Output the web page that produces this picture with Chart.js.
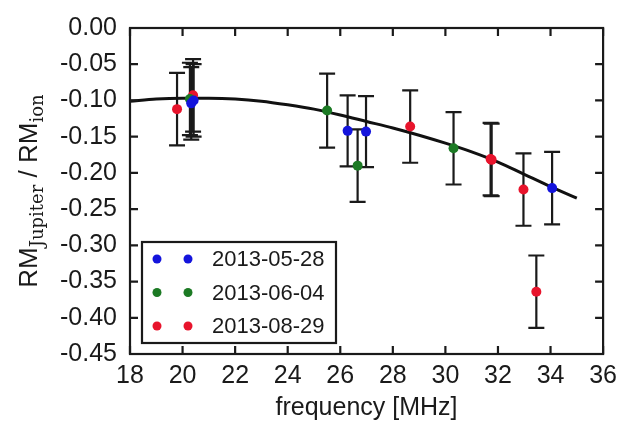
<!DOCTYPE html>
<html>
<head>
<meta charset="utf-8">
<script src="https://cdn.jsdelivr.net/npm/chart.js@4.4.1/dist/chart.umd.min.js"></script>
<style>
  html, body { margin: 0; padding: 0; background: #fff; }
  canvas { display: block; }
</style>
</head>
<body>
<canvas id="rmChart" width="624" height="424"></canvas>
<script>
// series labels (legend)
const seriesLabels = ['2013-05-28', '2013-06-04', '2013-08-29'];
const seriesColors = ['#1414dc', '#1c7a24', '#e8142c'];

// 2013-05-28 (blue)
const blueFreq = [20.33, 20.42, 26.28, 26.98, 34.06];
const blueRM = [-0.104, -0.100, -0.142, -0.143, -0.221];
const blueErr = [0.050, 0.050, 0.049, 0.049, 0.050];

// 2013-06-04 (green)
const greenFreq = [20.28, 25.50, 26.66, 30.31];
const greenRM = [-0.098, -0.114, -0.190, -0.166];
const greenErr = [0.050, 0.051, 0.050, 0.050];

// 2013-08-29 (red)
const redFreq = [19.79, 20.40, 28.66, 31.72, 31.76, 32.97, 33.46];
const redRM = [-0.112, -0.093, -0.136, -0.181, -0.182, -0.223, -0.364];
const redErr = [0.050, 0.050, 0.050, 0.050, 0.050, 0.050, 0.050];

// fitted curve
const fitFreq = [18, 19, 20, 21, 22, 23, 24, 25, 26, 27, 28, 29, 30, 31, 32, 33, 34, 35];
const fitRM = [-0.101, -0.098, -0.097, -0.097, -0.098, -0.101, -0.106, -0.112, -0.120,
               -0.129, -0.138, -0.148, -0.159, -0.171, -0.185, -0.202, -0.219, -0.235];

// axis ticks
const xTicks = [18, 20, 22, 24, 26, 28, 30, 32, 34, 36];
const yTicks = [0, -0.05, -0.10, -0.15, -0.20, -0.25, -0.30, -0.35, -0.40, -0.45];

const ink = '#1a1a1a';
const sans = "'Liberation Sans', Arial, sans-serif";

function toPoints(xs, ys) {
  return xs.map((x, i) => ({ x: x, y: ys[i] }));
}

const errs = [blueErr, greenErr, redErr];

// error bars, drawn under the points
const errorBars = {
  id: 'errorBars',
  beforeDatasetsDraw(chart) {
    const c = chart.ctx;
    const xs = chart.scales.x, ys = chart.scales.y;
    c.save();
    c.strokeStyle = ink;
    c.lineWidth = 2.2;
    for (let d = 0; d < 3; d++) {
      const pts = chart.data.datasets[d].data;
      pts.forEach((p, i) => {
        const px = xs.getPixelForValue(p.x);
        const top = ys.getPixelForValue(p.y + errs[d][i]);
        const bot = ys.getPixelForValue(p.y - errs[d][i]);
        c.beginPath();
        c.moveTo(px, top); c.lineTo(px, bot);
        c.moveTo(px - 8, top); c.lineTo(px + 8, top);
        c.moveTo(px - 8, bot); c.lineTo(px + 8, bot);
        c.stroke();
      });
    }
    c.restore();
  }
};

// frame, inward ticks, titles and legend box
const decor = {
  id: 'decor',
  afterDraw(chart) {
    const c = chart.ctx;
    const a = chart.chartArea;
    const xs = chart.scales.x, ys = chart.scales.y;
    c.save();
    c.strokeStyle = ink;
    c.lineWidth = 2.2;
    c.strokeRect(a.left, a.top, a.right - a.left, a.bottom - a.top);
    c.beginPath();
    xTicks.forEach(v => {
      const px = xs.getPixelForValue(v);
      c.moveTo(px, a.bottom); c.lineTo(px, a.bottom - 8);
      c.moveTo(px, a.top); c.lineTo(px, a.top + 8);
    });
    yTicks.forEach(v => {
      const py = ys.getPixelForValue(v);
      c.moveTo(a.left, py); c.lineTo(a.left + 8, py);
      c.moveTo(a.right, py); c.lineTo(a.right - 8, py);
    });
    c.stroke();

    // x title
    c.fillStyle = ink;
    c.font = '25px ' + sans;
    c.textAlign = 'center';
    c.textBaseline = 'alphabetic';
    c.fillText('frequency [MHz]', (a.left + a.right) / 2, 415);

    // y title with serif subscripts
    const parts = [
      { t: 'RM', f: '26px ' + sans, dy: 0 },
      { t: 'Jupiter', f: '18px "DejaVu Serif", serif', dy: 6 },
      { t: ' / RM', f: '26px ' + sans, dy: 0 },
      { t: 'ion', f: '18px "DejaVu Serif", serif', dy: 6 }
    ];
    let total = 0;
    parts.forEach(p => { c.font = p.f; p.w = c.measureText(p.t).width; total += p.w; });
    c.translate(37, (a.top + a.bottom) / 2);
    c.rotate(-Math.PI / 2);
    c.textAlign = 'left';
    let x0 = -total / 2;
    parts.forEach(p => {
      c.font = p.f;
      c.fillText(p.t, x0, p.dy);
      x0 += p.w;
    });
    c.setTransform(1, 0, 0, 1, 0, 0);

    // legend
    const lx = a.left + 12, lb = a.bottom - 11;
    const lw = 194, lh = 101;
    c.fillStyle = '#fff';
    c.fillRect(lx, lb - lh, lw, lh);
    c.strokeRect(lx, lb - lh, lw, lh);
    c.font = '22px ' + sans;
    c.textAlign = 'left';
    c.textBaseline = 'middle';
    seriesLabels.forEach((lab, i) => {
      const ry = lb - lh + 17 + i * 33.5;
      c.fillStyle = seriesColors[i];
      [15, 46].forEach(dx => {
        c.beginPath();
        c.arc(lx + dx, ry, 4.5, 0, Math.PI * 2);
        c.fill();
      });
      c.fillStyle = ink;
      c.fillText(lab, lx + 70, ry + 1);
    });
    c.restore();
  }
};

const pointSet = (label, xs, ys, color) => ({
  label: label,
  data: toPoints(xs, ys),
  backgroundColor: color,
  borderColor: color,
  pointRadius: 5,
  pointBorderWidth: 0,
  showLine: false
});

const ctx = document.getElementById('rmChart').getContext('2d');
new Chart(ctx, {
  type: 'scatter',
  data: {
    datasets: [
      pointSet(seriesLabels[0], blueFreq, blueRM, seriesColors[0]),
      pointSet(seriesLabels[1], greenFreq, greenRM, seriesColors[1]),
      pointSet(seriesLabels[2], redFreq, redRM, seriesColors[2]),
      {
        label: 'fit',
        data: toPoints(fitFreq, fitRM),
        showLine: true,
        borderColor: '#111',
        borderWidth: 3,
        pointRadius: 0,
        tension: 0.4,
        cubicInterpolationMode: 'monotone',
        fill: false
      }
    ]
  },
  options: {
    responsive: false,
    animation: false,
    layout: { padding: { top: 14, right: 14, left: 0, bottom: 0 } },
    plugins: { legend: { display: false }, tooltip: { enabled: false } },
    scales: {
      x: {
        type: 'linear',
        min: 18, max: 36,
        afterBuildTicks: s => { s.ticks = xTicks.map(v => ({ value: v })); },
        ticks: { color: ink, font: { family: sans, size: 25 }, padding: 7, maxRotation: 0 },
        grid: { display: false, drawTicks: false },
        border: { display: false },
        afterFit: s => { s.height = 70; }
      },
      y: {
        type: 'linear',
        min: -0.45, max: 0,
        afterBuildTicks: s => { s.ticks = yTicks.map(v => ({ value: v })); },
        ticks: { color: ink, font: { family: sans, size: 25 }, padding: 13, callback: v => v.toFixed(2) },
        grid: { display: false, drawTicks: false },
        border: { display: false },
        afterFit: s => { s.width = 130; }
      }
    }
  },
  plugins: [errorBars, decor]
});
</script>
</body>
</html>
